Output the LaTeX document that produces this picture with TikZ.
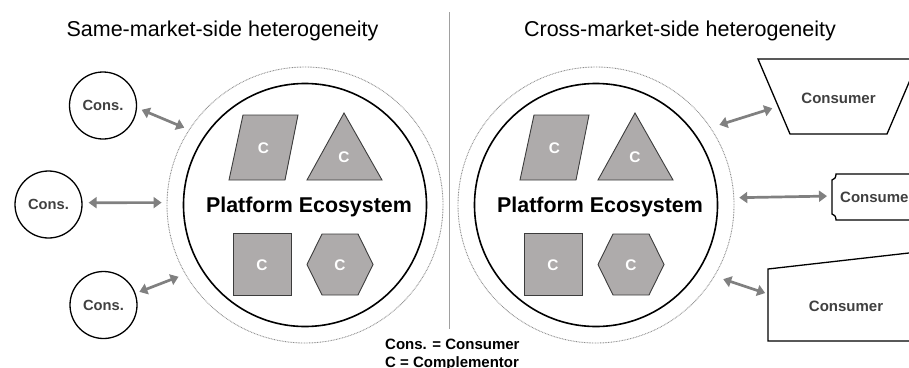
\documentclass[tikz,border=0pt]{standalone}
\usepackage{fontspec}
\setmainfont{Liberation Sans}
\usetikzlibrary{arrows.meta}
\definecolor{compfill}{HTML}{AEABAB}
\definecolor{compline}{HTML}{3C3C3C}
\definecolor{linkgray}{HTML}{808080}
\definecolor{ringgray}{HTML}{8C8C8C}
\definecolor{labelgray}{HTML}{404040}
\definecolor{rulegray}{HTML}{A0A0A0}

\begin{document}
\begin{tikzpicture}[x=1pt,y=-1pt,
  heading/.style={font=\fontsize{21.5}{26}\selectfont, inner sep=0pt, anchor=base},
  consnode/.style={circle, draw, line width=1.3pt, minimum size=67pt, inner sep=0pt,
    text=labelgray, font=\bfseries\fontsize{14.7}{17}\selectfont},
  eco/.style={circle, draw, line width=1.6pt, minimum size=243pt, inner sep=0pt},
  ring/.style={circle, draw=ringgray, line width=0.9pt, dash pattern=on 0.8pt off 0.8pt,
    minimum size=276pt, inner sep=0pt},
  comp/.style={fill=compfill, draw=compline, line width=0.9pt, line join=miter},
  clabel/.style={text=white, font=\bfseries\fontsize{15.4}{18}\selectfont, inner sep=0pt},
  ecolabel/.style={font=\bfseries\fontsize{21.4}{26}\selectfont, inner sep=0pt, anchor=base},
  custshape/.style={draw, line width=1.3pt, fill=white},
  custlabel/.style={text=labelgray, font=\bfseries\fontsize{15}{18}\selectfont, inner sep=0pt},
  link/.style={draw=linkgray, line width=2.7pt,
    {Triangle[length=8pt,width=11pt]}-{Triangle[length=8pt,width=11pt]}},
  legend/.style={font=\bfseries\fontsize{15}{18}\selectfont, inner sep=0pt, anchor=base west}
]
\clip (0,0) rectangle (909,367);

% headings and divider
\node[heading] (headL) at (222.5,36.7) {Same-market-side heterogeneity};
\node[heading] (headR) at (680,36.7) {Cross-market-side heterogeneity};
\coordinate (divtop) at (449.5,12);
\coordinate (divbot) at (449.5,329);
\draw[rulegray, line width=0.8pt] (divtop) -- (divbot);

% the two platform ecosystems
\foreach \s/\dx in {L/0,R/291}{
  \begin{scope}[xshift=\dx pt]
    \node[ring] (\s-ring) at (305,205) {};
    \node[eco] (\s-eco) at (305,205) {};
    \path[comp] (243,115) -- (298,115) -- (285,180) -- (229,180) -- cycle;
    \path[comp] (344,113) -- (382,180) -- (307,180) -- cycle;
    \path[comp] (233,233) rectangle (291,295);
    \path[comp] (307,264.5) -- (322,234) -- (358,234) -- (373,264.5) -- (358,295) -- (322,295) -- cycle;
    \node[clabel] (\s-c1) at (263.5,148) {C};
    \node[clabel] (\s-c2) at (344,157) {C};
    \node[clabel] (\s-c3) at (262,265) {C};
    \node[clabel] (\s-c4) at (340,265) {C};
    \node[ecolabel] (\s-title) at (309,212.3) {Platform Ecosystem};
  \end{scope}
}

% same-market-side consumers
\node[consnode] (cA) at (103,105.5) {Cons.};
\node[consnode] (cB) at (48.5,204.5) {Cons.};
\node[consnode] (cC) at (103.5,305) {Cons.};

\draw[link, shorten <=5pt, shorten >=5pt] (cA.-4) -- (L-ring.147);
\draw[link, shorten <=6pt, shorten >=5pt] (cB.3) -- (L-ring.179);
\draw[link, shorten <=4pt, shorten >=7pt] (cC.20) -- (L-ring.210);

% cross-market-side consumers
\path[custshape] (758,59) -- (919,59) -- (887,134) -- (790,134) -- cycle;
\node[custlabel] (cD) at (838.5,98) {Consumer};
\coordinate (cD-w) at (778,106.5);

\path[custshape] (836,174) -- (930,174) -- (930,220) -- (836,220)
  .. controls (836,216.7) and (834.2,214) .. (832,214) -- (832,180)
  .. controls (834.2,180) and (836,177.3) .. (836,174) -- cycle;
\node[custlabel, anchor=west] (cE) at (840,197) {Consumer};
\coordinate (cE-w) at (832,196);

\path[custshape] (768,269) -- (930,250.6) -- (930,341) -- (768,341) -- cycle;
\node[custlabel] (cF) at (846,306) {Consumer};
\coordinate (cF-w) at (768,294);

\draw[link, shorten <=9pt, shorten >=6pt] (R-ring.34) -- (cD-w);
\draw[link, shorten <=5pt, shorten >=5pt] (R-ring.3.7) -- (cE-w);
\draw[link, shorten <=9pt, shorten >=3pt] (R-ring.-31) -- (cF-w);

% legend
\node[legend] (leg1) at (385,349.3) {Cons. = Consumer};
\node[legend] (leg2) at (385,367.6) {C = Complementor};
\end{tikzpicture}
\end{document}
